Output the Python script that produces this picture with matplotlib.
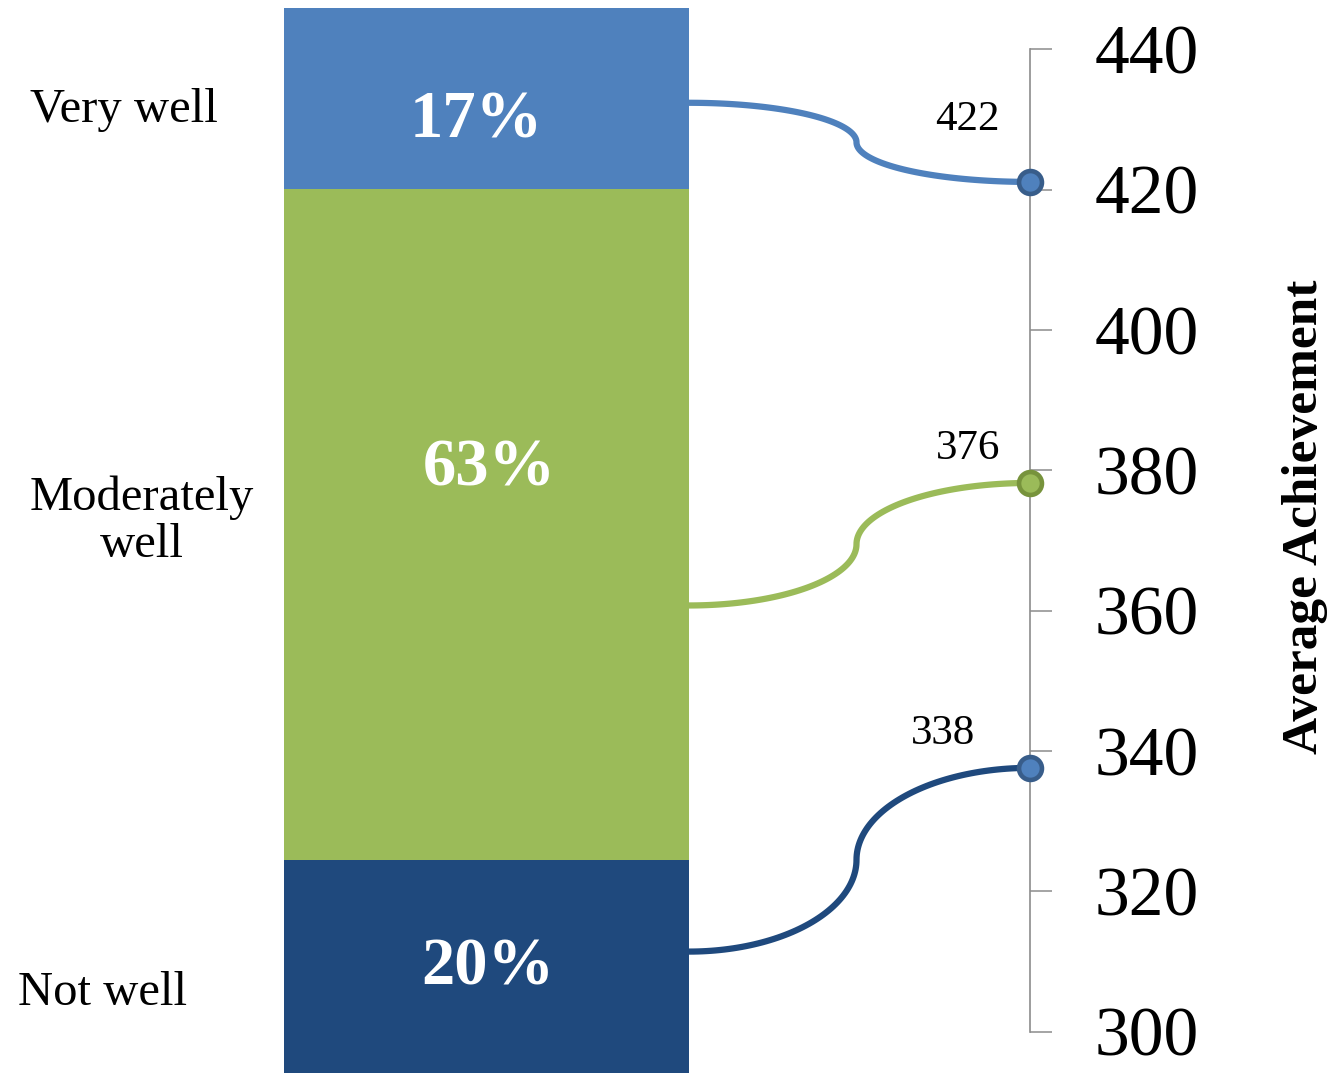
import numpy as np
import matplotlib
matplotlib.use("Agg")
import matplotlib.pyplot as plt

# ---------------- data ----------------
categories = ["Not well", "Moderately\nwell", "Very well"]          # bottom -> top
shares = [20, 63, 17]                                                # % of students
share_labels = ["20%", "63%", "17%"]
achievement = [337.6, 378.2, 421.1]                                  # dot positions on axis
achievement_labels = ["338", "376", "422"]
connector_start = [11.4, 43.9, 91.1]                                 # level (in % of bar) where connector leaves bar
ach_ticks = [300, 320, 340, 360, 380, 400, 420, 440]

bar_colors = ["#1F497D", "#9BBB59", "#4F81BD"]
line_colors = ["#1F497D", "#9BBB59", "#4F81BD"]
dot_faces = ["#4F81BD", "#9BBB59", "#4F81BD"]
dot_edges = ["#385D8A", "#77933C", "#385D8A"]

W, H = 1332, 1074
FONT = "Liberation Serif"
plt.rcParams["font.family"] = [FONT, "DejaVu Serif"]

fig = plt.figure(figsize=(W / 100, H / 100), dpi=100)
fig.patch.set_facecolor("white")

def fx(px):
    return px / W

def fy(py):
    return 1 - py / H

# ---------------- stacked bar ----------------
ax_bar = fig.add_axes([fx(284), fy(1073), fx(405), 1065 / H])
ax_bar.set_xlim(-0.5, 0.5)
ax_bar.set_ylim(0, sum(shares))
ax_bar.axis("off")
bottoms = np.concatenate([[0], np.cumsum(shares)[:-1]])
ax_bar.bar([0] * len(shares), shares, bottom=bottoms, width=1.0,
           color=bar_colors, edgecolor="none")

# percent labels (layout: x offset and baseline level within bar)
pct_label_pos = [(0.004, 8.3), (0.006, 55.2), (-0.025, 87.8)]
for lab, (x, y) in zip(share_labels, pct_label_pos):
    ax_bar.text(x, y, lab, ha="center", va="baseline", color="white",
                fontsize=48, fontweight="bold")

# ---------------- achievement axis ----------------
ax_ach = fig.add_axes([fx(1000), fy(1031.7), fx(30), 982.4 / H])
ax_ach.set_xlim(0, 1)
ax_ach.set_ylim(min(ach_ticks), max(ach_ticks))
ax_ach.patch.set_visible(False)
for s in ["left", "top", "bottom"]:
    ax_ach.spines[s].set_visible(False)
ax_ach.spines["right"].set_color("#8C8C8C")
ax_ach.spines["right"].set_linewidth(1.2)
ax_ach.set_xticks([])
ax_ach.yaxis.tick_right()
ax_ach.set_yticks(ach_ticks)
ax_ach.set_yticklabels([str(t) for t in ach_ticks])
ax_ach.tick_params(axis="y", direction="out", length=15.5, width=1.1,
                   color="#8C8C8C", pad=31, labelsize=50)

fig.text(fx(1305), fy(517), "Average Achievement", rotation=90,
         ha="center", va="center", fontsize=37, fontweight="bold")

# ---------------- connectors ----------------
inv = fig.transFigure.inverted()
t = np.linspace(0, np.pi / 2, 60)
for start, val, col in zip(connector_start, achievement, line_colors):
    x0, y0 = ax_bar.transData.transform((0.5, start))
    x1, y1 = ax_ach.transData.transform((1.0, val))
    xm, ym = (x0 + x1) / 2 - 3, (y0 + y1) / 2
    xa = x0 + (xm - x0) * np.sin(t)
    ya = ym + (y0 - ym) * np.cos(t)
    xb = x1 - (x1 - xm) * np.cos(t)
    yb = ym + (y1 - ym) * np.sin(t)
    xs = np.concatenate([xa, xb])
    ys = np.concatenate([ya, yb])
    pts = inv.transform(np.column_stack([xs, ys]))
    ax_ach.plot(pts[:, 0], pts[:, 1], color=col, lw=4.5, transform=fig.transFigure,
                clip_on=False, zorder=2, solid_capstyle="butt")

for val, fc, ec in zip(achievement, dot_faces, dot_edges):
    ax_ach.plot([1.0], [val], marker="o", ms=16.5, mfc=fc, mec=ec, mew=3.3,
                clip_on=False, zorder=4, ls="none")

# value labels (layout: pixel offsets of baseline-centre from the dot)
val_label_offsets = [(-87, 24), (-62, 24), (-62.5, 52)]
for val, lab, off in zip(achievement, achievement_labels, val_label_offsets):
    ax_ach.annotate(lab, xy=(1.0, val), xytext=off, textcoords="offset pixels",
                    ha="center", va="baseline", fontsize=31, annotation_clip=False)

# ---------------- category labels ----------------
# (x centre, baseline of last line) in pixels
cat_label_pos = [(102.5, 1005), (142, 557), (124, 122)]
for lab, (x, y) in zip(categories, cat_label_pos):
    fig.text(fx(x), fy(y), lab, ha="center", va="baseline", fontsize=35,
             linespacing=1.1, multialignment="center")

fig.savefig("out.png", dpi=100, facecolor="white")
